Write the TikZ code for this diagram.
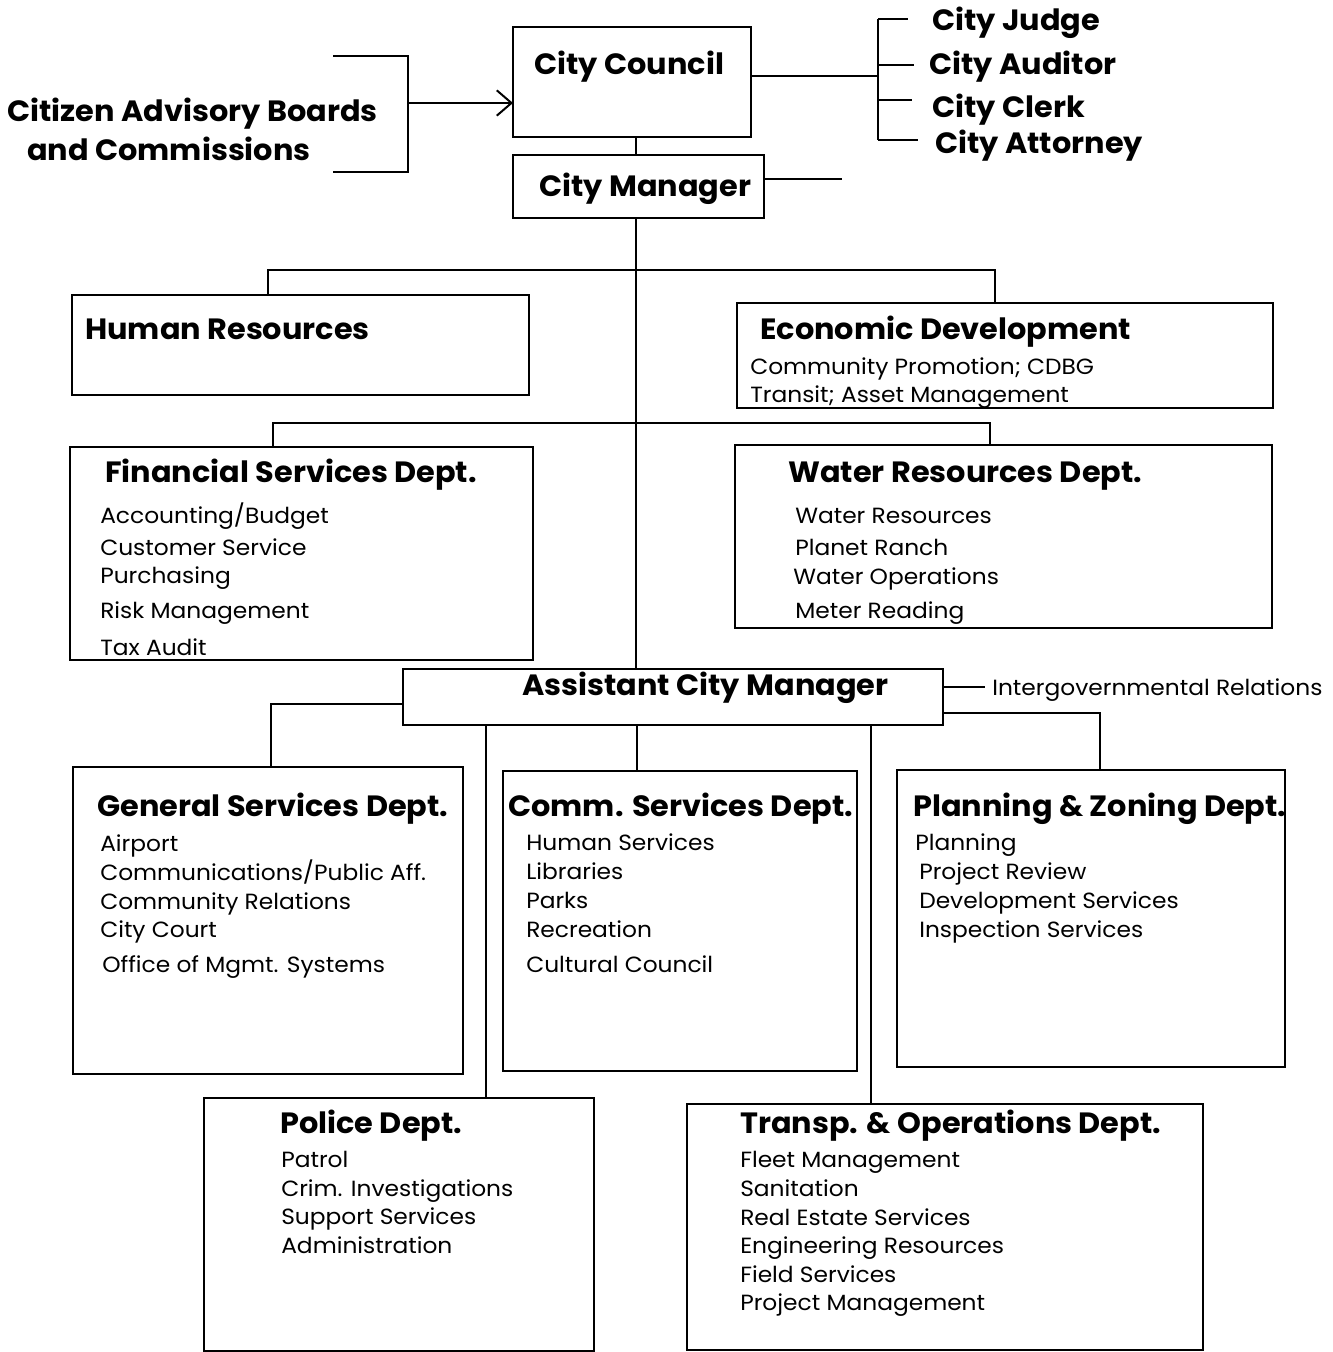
\documentclass[tikz,border=0pt]{standalone}
\usepackage{fontspec}
\setmainfont{Poppins}
\newfontfamily\ttlfont{Poppins}[FakeStretch=1.035]
\newfontfamily\itmfont{Poppins}[FakeStretch=1.06]
\usetikzlibrary{fit,arrows.meta}
\tikzset{
  box/.style={draw, line width=1.5pt, inner sep=0pt, outer sep=0pt},
  conn/.style={line width=1.5pt},
  ttl/.style={font=\ttlfont\bfseries\fontsize{22}{24}\selectfont, anchor=base west, inner sep=0pt},
  itm/.style={font=\itmfont\fontsize{16.5}{18}\selectfont, anchor=base west, inner sep=0pt},
}
\begin{document}
\begin{tikzpicture}[x=0.75pt,y=-0.75pt]
\fill[white] (0,0) rectangle (1333,1352);
\useasboundingbox (0,0) rectangle (1333,1352);

% boxes
\node[box, fit={(513,27) (751,137)}] (cc) {};
\node[box, fit={(513,155) (764,218)}] (cm) {};
\node[box, fit={(72,295) (529,395)}] (hr) {};
\node[box, fit={(737,303) (1273,408)}] (ed) {};
\node[box, fit={(70,447) (533,660)}] (fs) {};
\node[box, fit={(735,445) (1272,628)}] (wr) {};
\node[box, fit={(403,669) (943,725)}] (acm) {};
\node[box, fit={(73,767) (463,1074)}] (gs) {};
\node[box, fit={(503,771) (857,1071)}] (comm) {};
\node[box, fit={(897,770) (1285,1067)}] (pz) {};
\node[box, fit={(204,1098) (594,1351)}] (pol) {};
\node[box, fit={(687,1104) (1203,1350)}] (tr) {};

% top texts
\node[ttl] (cab1) at (7,122) {Citizen Advisory Boards};
\node[ttl] (cab2) at (27,161) {and Commissions};
\node[ttl] (cct) at (534,75) {City Council};
\node[ttl] (cmt) at (539,196) {City Manager};
\node[ttl] (judge) at (932,31) {City Judge};
\node[ttl] (auditor) at (929,75) {City Auditor};
\node[ttl] (clerk) at (932,118) {City Clerk};
\node[ttl] (attorney) at (935,154) {City Attorney};

% citizen bracket and arrow
\coordinate (bt) at (333,56);
\coordinate (bb) at (333,172);
\coordinate (bm) at (408,103);
\draw[conn] (bt) -- (408,56) -- (408,172) -- (bb);
\draw[conn, -{Straight Barb[length=11pt,width=19pt,line width=1.5pt]}] (bm) -- (bm -| cc.west);

% council to officers
\coordinate (rb) at (878,76);
\draw[conn] (cc.east |- rb) -- (rb);
\draw[conn] (878,19) -- (878,140);
\coordinate (tj) at (908,19);
\coordinate (ta) at (914,65);
\coordinate (tc) at (912,100);
\coordinate (tt) at (918,140);
\draw[conn] (878,19) -- (tj);
\draw[conn] (878,65) -- (ta);
\draw[conn] (878,100) -- (tc);
\draw[conn] (878,140) -- (tt);

% council - manager
\draw[conn] (636,137) -- (636,155);
\coordinate (cmr) at (842,179);
\draw[conn] (cm.east |- cmr) -- (cmr);

% trunk
\draw[conn] (636,218) -- (636,669);

% HR / ED bar
\draw[conn] (268,295) -- (268,270) -- (995,270) -- (995,303);
% FS / WR bar
\draw[conn] (273,447) -- (273,423) -- (990,423) -- (990,445);

% section texts
\node[ttl] (hrt) at (85,339) {Human Resources};
\node[ttl] (edt) at (760,339) {Economic Development};
\node[itm] (ed1) at (750,374) {Community Promotion; CDBG};
\node[itm] (ed2) at (750,402) {Transit; Asset Management};

\node[ttl] (fst) at (105,482) {Financial Services Dept.};
\node[itm] (fs1) at (100,523) {Accounting/Budget};
\node[itm] (fs2) at (100,555) {Customer Service};
\node[itm] (fs3) at (100,583) {Purchasing};
\node[itm] (fs4) at (100,618) {Risk Management};
\node[itm] (fs5) at (100,655) {Tax Audit};

\node[ttl] (wrt) at (788,482) {Water Resources Dept.};
\node[itm] (wr1) at (795,523) {Water Resources};
\node[itm] (wr2) at (795,555) {Planet Ranch};
\node[itm] (wr3) at (793,584) {Water Operations};
\node[itm] (wr4) at (795,618) {Meter Reading};

% assistant city manager
\node[ttl] (acmt) at (522,695) {Assistant City Manager};
\node[itm] (igr) at (992,695) {Intergovernmental Relations};
\draw[conn] (acm.east |- 0,687) -- (985,687);
\draw[conn] (acm.west |- 0,704) -- (271,704) -- (271,767);
\draw[conn] (acm.east |- 0,713) -- (1100,713) -- (1100,770);
\draw[conn] (486,725) -- (486,1098);
\draw[conn] (637,725) -- (637,771);
\draw[conn] (871,725) -- (871,1104);

\node[ttl] (gst) at (97,816) {General Services Dept.};
\node[itm] (gs1) at (100,851) {Airport};
\node[itm] (gs2) at (100,880) {Communications/Public Aff.};
\node[itm] (gs3) at (100,909) {Community Relations};
\node[itm] (gs4) at (100,937) {City Court};
\node[itm] (gs5) at (102,972) {Office of Mgmt. Systems};

\node[ttl] (commt) at (508,816) {Comm. Services Dept.};
\node[itm] (cm1) at (526,850) {Human Services};
\node[itm] (cm2) at (526,879) {Libraries};
\node[itm] (cm3) at (526,908) {Parks};
\node[itm] (cm4) at (526,937) {Recreation};
\node[itm] (cm5) at (526,972) {Cultural Council};

\node[ttl] (pzt) at (913,816) {Planning \& Zoning Dept.};
\node[itm] (pz1) at (915,850) {Planning};
\node[itm] (pz2) at (919,879) {Project Review};
\node[itm] (pz3) at (919,908) {Development Services};
\node[itm] (pz4) at (919,937) {Inspection Services};

\node[ttl] (polt) at (280,1133) {Police Dept.};
\node[itm] (po1) at (281,1167) {Patrol};
\node[itm] (po2) at (281,1196) {Crim. Investigations};
\node[itm] (po3) at (281,1224) {Support Services};
\node[itm] (po4) at (281,1253) {Administration};

\node[ttl] (trt) at (740,1133) {Transp. \& Operations Dept.};
\node[itm] (tr1) at (740,1167) {Fleet Management};
\node[itm] (tr2) at (740,1196) {Sanitation};
\node[itm] (tr3) at (740,1225) {Real Estate Services};
\node[itm] (tr4) at (740,1253) {Engineering Resources};
\node[itm] (tr5) at (740,1282) {Field Services};
\node[itm] (tr6) at (740,1310) {Project Management};
\end{tikzpicture}
\end{document}
